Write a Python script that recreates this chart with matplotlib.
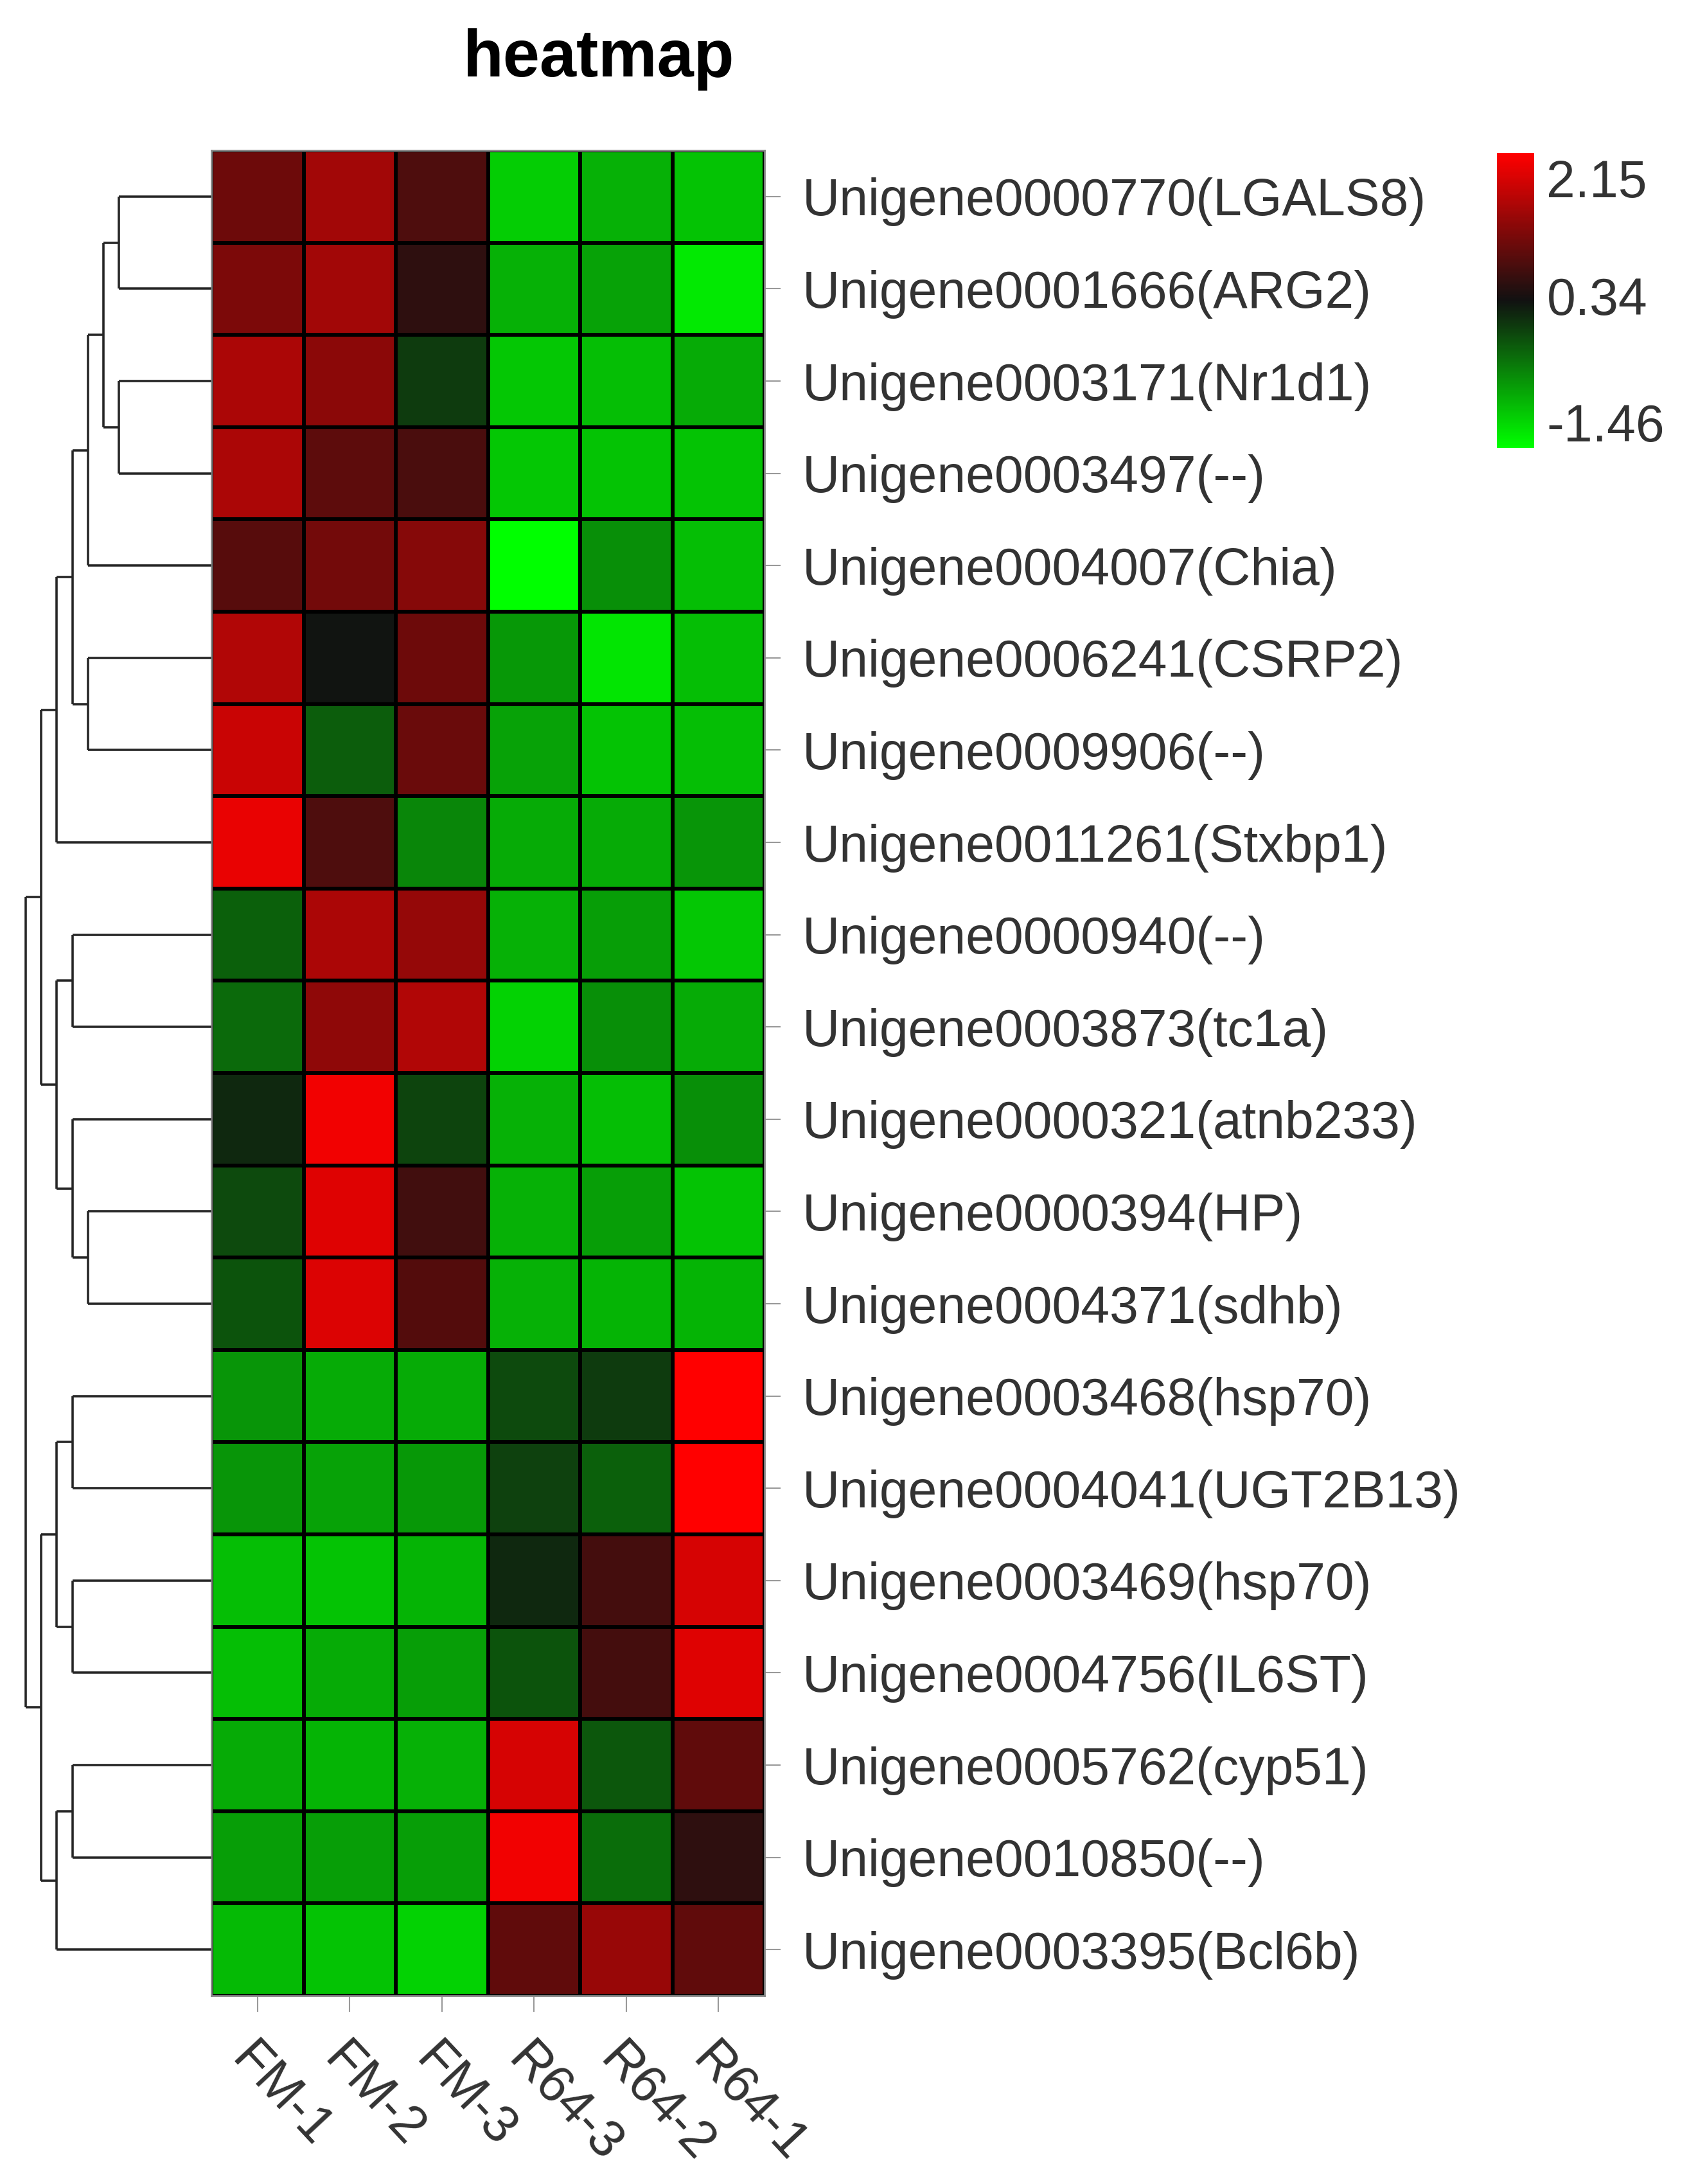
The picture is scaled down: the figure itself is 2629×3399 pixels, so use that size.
import numpy as np
import matplotlib
matplotlib.use("Agg")
import matplotlib.pyplot as plt
from matplotlib.colors import LinearSegmentedColormap, Normalize

plt.rcParams['font.family'] = ['Liberation Sans', 'DejaVu Sans']

# ---- data ----
samples = ["FM-1", "FM-2", "FM-3", "R64-3", "R64-2", "R64-1"]
genes = ["Unigene0000770(LGALS8)", "Unigene0001666(ARG2)", "Unigene0003171(Nr1d1)",
         "Unigene0003497(--)", "Unigene0004007(Chia)", "Unigene0006241(CSRP2)",
         "Unigene0009906(--)", "Unigene0011261(Stxbp1)", "Unigene0000940(--)",
         "Unigene0003873(tc1a)", "Unigene0000321(atnb233)", "Unigene0000394(HP)",
         "Unigene0004371(sdhb)", "Unigene0003468(hsp70)", "Unigene0004041(UGT2B13)",
         "Unigene0003469(hsp70)", "Unigene0004756(IL6ST)", "Unigene0005762(cyp51)",
         "Unigene0010850(--)", "Unigene0003395(Bcl6b)"]

fm1 = [1.05, 1.16, 1.51, 1.51, 0.88, 1.55, 1.73, 1.97, -0.26, -0.33,
       0.17, -0.08, -0.15, -0.65, -0.65, -0.96, -0.96, -0.82, -0.72, -0.93]
fm2 = [1.44, 1.44, 1.27, 0.91, 1.09, 0.33, -0.22, 0.81, 1.51, 1.30,
       2.04, 1.90, 1.87, -0.82, -0.75, -1.00, -0.82, -0.89, -0.72, -1.00]
fm3 = [0.81, 0.56, 0.03, 0.77, 1.23, 1.05, 1.02, -0.54, 1.34, 1.55,
       -0.04, 0.70, 0.84, -0.82, -0.68, -0.89, -0.72, -0.86, -0.72, -1.11]
r64_3 = [-1.07, -0.86, -1.03, -1.03, -1.46, -0.68, -0.75, -0.82, -0.86, -1.11,
         -0.86, -0.86, -0.86, -0.08, -0.01, 0.17, -0.15, 1.83, 2.04, 0.95]
r64_2 = [-0.86, -0.75, -0.96, -1.00, -0.61, -1.25, -1.00, -0.82, -0.72, -0.61,
         -0.96, -0.72, -0.89, 0.03, -0.26, 0.73, 0.73, -0.19, -0.36, 1.37]
r64_1 = [-1.00, -1.28, -0.82, -1.00, -0.96, -0.96, -0.96, -0.65, -1.03, -0.82,
         -0.61, -1.00, -0.89, 2.15, 2.15, 1.83, 1.90, 0.95, 0.56, 0.95]

# row clustering tree (leaf = row index)
upper = ((((((0, 1), (2, 3)), 4), (5, 6)), 7), ((8, 9), (10, (11, 12))))
lower = (((13, 14), (15, 16)), ((17, 18), 19))
tree = (upper, lower)

vmin, vmax = -1.46, 2.15
cbar_labels = ["-1.46", "0.34", "2.15"]

values = np.column_stack([fm1, fm2, fm3, r64_3, r64_2, r64_1])
nrow, ncol = values.shape

W, H = 2629, 3399
fig = plt.figure(figsize=(W / 100, H / 100), dpi=100)

# layout in pixels
hm_l, hm_r, hm_t, hm_b = 329, 1190, 234, 3106
txt_col = '#333333'
cmap = LinearSegmentedColormap.from_list('gkr', ['#00ff00', '#111111', '#ff0000'])
norm = Normalize(vmin=vmin, vmax=vmax)

ax = fig.add_axes([hm_l / W, 1 - hm_b / H, (hm_r - hm_l) / W, (hm_b - hm_t) / H])
mesh = ax.pcolormesh(np.arange(ncol + 1), np.arange(nrow + 1), values,
                     cmap=cmap, norm=norm, edgecolors='black', linewidth=3.2)
ax.set_xlim(0, ncol)
ax.set_ylim(nrow, 0)
ax.set_xticks(np.arange(ncol) + 0.5)
ax.set_xticklabels(samples, rotation=-47, ha='left', va='top',
                   rotation_mode='anchor', fontsize=58, color=txt_col)
ax.set_yticks(np.arange(nrow) + 0.5)
ax.set_yticklabels(genes, fontsize=58, color=txt_col)
ax.yaxis.tick_right()
ax.tick_params(axis='y', length=18, width=1.5, color='#999999', pad=24)
ax.tick_params(axis='x', length=18, width=1.5, color='#999999', pad=26)
for s in ax.spines.values():
    s.set_color('#888888')
    s.set_linewidth(2)

# dendrogram, drawn by tree depth
dax = fig.add_axes([0, 1 - hm_b / H, hm_l / W, (hm_b - hm_t) / H])
root_px, step_px = 40, 24.2
x_right = (hm_l - root_px) / step_px
dax.set_xlim(-root_px / step_px, x_right)
dax.set_ylim(nrow, 0)
dax.axis('off')
line_kw = dict(color='#262626', lw=2.6, solid_capstyle='butt')


def draw(node, depth):
    if isinstance(node, int):
        return node + 0.5, x_right
    kids = [draw(c, depth + 1) for c in node]
    for ky, kx in kids:
        dax.plot([depth, kx], [ky, ky], **line_kw)
    ys = [k[0] for k in kids]
    dax.plot([depth, depth], [min(ys), max(ys)], **line_kw)
    return (min(ys) + max(ys)) / 2, depth


draw(tree, 0)

# colorbar
cax = fig.add_axes([2330 / W, 1 - 697 / H, 58 / W, 459 / H])
cb = fig.colorbar(mesh, cax=cax)
fr = np.array([0.087, 0.515, 0.915])
cb.set_ticks(vmin + fr * (vmax - vmin))
cb.set_ticklabels(cbar_labels)
cb.outline.set_visible(False)
cax.tick_params(length=0, pad=14, labelsize=58, labelcolor=txt_col)

fig.text(932 / W, 1 - 119 / H, "heatmap", ha='center', va='baseline',
         fontsize=74, fontweight='bold', color='black')

fig.savefig("out.png", dpi=100, facecolor='white')
